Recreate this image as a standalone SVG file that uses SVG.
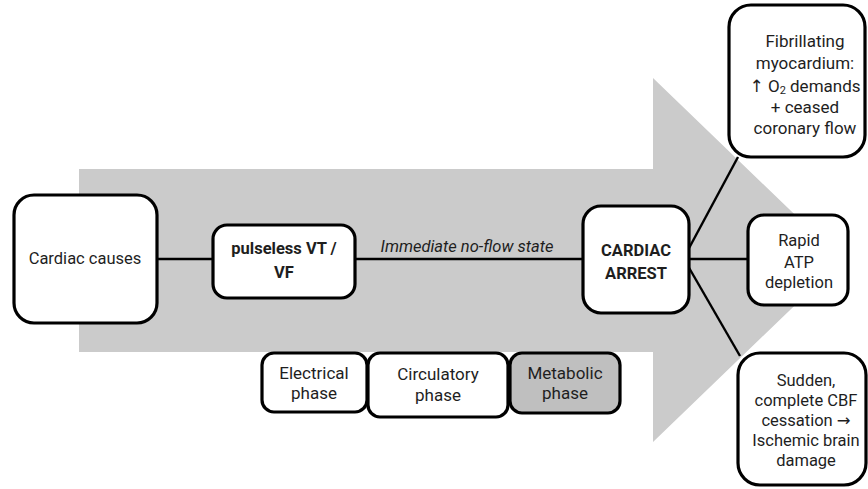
<svg xmlns="http://www.w3.org/2000/svg" width="868" height="489" viewBox="0 0 868 489">
<style>
.box{fill:#ffffff;stroke:#000;stroke-width:3.2}
.t{font-family:Roboto,"Liberation Sans",sans-serif;font-size:16.5px;fill:#1e1e1e;text-anchor:middle}
.f{font-size:17px}
.p{font-size:17px}
.b{font-weight:bold}
.ar{font-family:"DejaVu Sans",sans-serif}
.c{stroke:#000;stroke-width:2.4;fill:none}
</style>
<rect width="868" height="489" fill="#fff"/>
<polygon id="bigarrow" points="79,169 653,169 653,78 842,260 653,442 653,352 79,352" fill="#cbcbcb"/>
<g id="connectors">
<line class="c" x1="157" y1="259" x2="213" y2="259"/>
<line class="c" x1="355" y1="259" x2="583" y2="259"/>
<line class="c" x1="689" y1="259" x2="748" y2="259"/>
<line class="c" x1="688" y1="250" x2="738" y2="157"/>
<line class="c" x1="688" y1="266" x2="740" y2="356"/>
</g>
<g id="cardiac-causes">
<rect class="box" x="14" y="195" width="143" height="128" rx="20"/>
<text class="t" x="85" y="264">Cardiac causes</text>
</g>
<g id="pulseless">
<rect class="box" x="213" y="225" width="142" height="73" rx="14"/>
<text class="t b" x="284" y="254">pulseless VT /</text>
<text class="t b" x="284" y="278">VF</text>
</g>
<text id="noflow" class="t" x="467" y="252" font-style="italic" font-size="17.5">Immediate no-flow state</text>
<g id="cardiac-arrest">
<rect class="box" x="583" y="206" width="106" height="107" rx="18"/>
<text class="t b" x="636" y="256">CARDIAC</text>
<text class="t b" x="636" y="279">ARREST</text>
</g>
<g id="fibrillating">
<rect class="box" x="729" y="5" width="136" height="152" rx="22"/>
<text class="t f" x="805" y="47">Fibrillating</text>
<text class="t f" x="805" y="69">myocardium:</text>
<text class="t f" x="805" y="92"><tspan class="ar">↑</tspan> O<tspan font-size="11" dy="2">2</tspan><tspan dy="-2"> demands</tspan></text>
<text class="t f" x="805" y="113">+ ceased</text>
<text class="t f" x="805" y="134">coronary flow</text>
</g>
<g id="atp">
<rect class="box" x="748" y="215" width="100" height="90" rx="16"/>
<text class="t" x="799" y="246">Rapid</text>
<text class="t" x="799" y="268">ATP</text>
<text class="t" x="799" y="288">depletion</text>
</g>
<g id="sudden">
<rect class="box" x="738" y="353" width="128" height="132" rx="22"/>
<text class="t" x="806" y="386">Sudden,</text>
<text class="t" x="806" y="406">complete CBF</text>
<text class="t" x="806" y="426">cessation <tspan class="ar">→</tspan></text>
<text class="t" x="806" y="446">Ischemic brain</text>
<text class="t" x="806" y="466">damage</text>
</g>
<g id="electrical">
<rect class="box" x="262" y="353" width="105" height="59" rx="12"/>
<text class="t p" x="314" y="379">Electrical</text>
<text class="t p" x="314" y="399">phase</text>
</g>
<g id="circulatory">
<rect class="box" x="368" y="353" width="140" height="64" rx="12"/>
<text class="t p" x="438" y="380">Circulatory</text>
<text class="t p" x="438" y="401">phase</text>
</g>
<g id="metabolic">
<rect class="box" x="510" y="353" width="110" height="60" rx="12" style="fill:#bfbfbf"/>
<text class="t p" x="565" y="379">Metabolic</text>
<text class="t p" x="565" y="399">phase</text>
</g>
</svg>
